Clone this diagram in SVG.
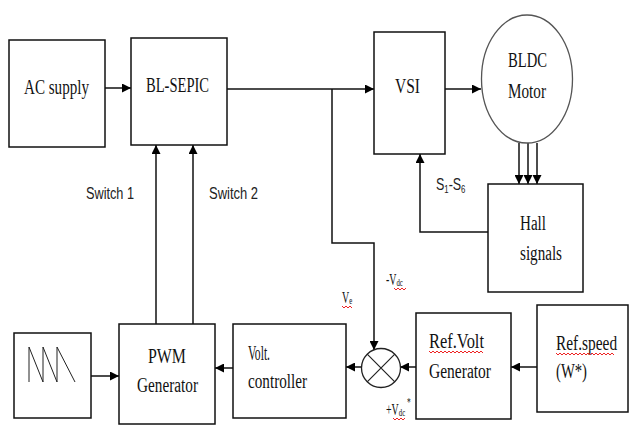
<svg xmlns="http://www.w3.org/2000/svg" width="630" height="428" viewBox="0 0 630 428">
<defs>
<marker id="ah" viewBox="0 0 10 10" refX="10" refY="5" markerWidth="9" markerHeight="9" markerUnits="userSpaceOnUse" orient="auto">
<path d="M0,0 L10,5 L0,10 Z" fill="#000"/>
</marker>
</defs>
<style>
.box{fill:#fff;stroke:#111;stroke-width:1.5}
.ln{fill:none;stroke:#111;stroke-width:1.5}
.t{font-family:"Liberation Serif",serif;font-size:20px;fill:#111}
.s{font-family:"Liberation Sans",sans-serif;font-size:16px;fill:#222}
.m{font-family:"Liberation Serif",serif;font-size:16px;fill:#111}
.w{fill:none;stroke:#e22;stroke-width:1}
</style>
<rect width="630" height="428" fill="#fff"/>
<g id="connectors">
<path class="ln" d="M105,88 H131" marker-end="url(#ah)"/>
<path class="ln" d="M227,89 H374" marker-end="url(#ah)"/>
<path class="ln" d="M332,89 V243 H374 V350" marker-end="url(#ah)"/>
<path class="ln" d="M445,89 H481" stroke="#333" marker-end="url(#ah)"/>
<path class="ln" d="M519,143 V184" marker-end="url(#ah)"/>
<path class="ln" d="M528,143 V184" marker-end="url(#ah)"/>
<path class="ln" d="M537,143 V184" marker-end="url(#ah)"/>
<path class="ln" d="M488,232 H420 V154" marker-end="url(#ah)"/>
<path class="ln" d="M156,324 V145" stroke="#444" marker-end="url(#ah)"/>
<path class="ln" d="M193,324 V145" stroke="#444" marker-end="url(#ah)"/>
<path class="ln" d="M537,367 H511" marker-end="url(#ah)"/>
<path class="ln" d="M416,367 H400" marker-end="url(#ah)"/>
<path class="ln" d="M361,367 H346" marker-end="url(#ah)"/>
<path class="ln" d="M233,368 H215" marker-end="url(#ah)"/>
<path class="ln" d="M91,376 H119" marker-end="url(#ah)"/>
</g>
<g id="ac-supply">
<rect class="box" x="9" y="40" width="96" height="107"/>
<text class="t" x="24" y="94" textLength="65" lengthAdjust="spacingAndGlyphs">AC supply</text>
</g>
<g id="bl-sepic">
<rect class="box" x="131" y="38" width="96" height="107"/>
<text class="t" x="146" y="92" textLength="63" lengthAdjust="spacingAndGlyphs">BL-SEPIC</text>
</g>
<g id="vsi">
<rect class="box" x="374" y="32" width="71" height="122"/>
<text class="t" x="395" y="93" textLength="25" lengthAdjust="spacingAndGlyphs">VSI</text>
</g>
<g id="motor">
<ellipse cx="527" cy="79" rx="45.5" ry="64" fill="#fff" stroke="#555" stroke-width="1.3"/>
<text class="t" x="508" y="67" textLength="39" lengthAdjust="spacingAndGlyphs">BLDC</text>
<text class="t" x="508" y="98" textLength="38" lengthAdjust="spacingAndGlyphs">Motor</text>
</g>
<g id="hall">
<rect class="box" x="488" y="184" width="95" height="108"/>
<text class="t" x="520" y="230" textLength="26" lengthAdjust="spacingAndGlyphs">Hall</text>
<text class="t" x="520" y="260" textLength="42" lengthAdjust="spacingAndGlyphs">signals</text>
</g>
<g id="s-label">
<text class="s" transform="translate(436,190) scale(0.78,1)">S<tspan font-size="10" dy="3">1</tspan><tspan dy="-3">-S</tspan><tspan font-size="10" dy="3">6</tspan></text>
</g>
<g id="switch-labels">
<text class="s" x="86" y="199" textLength="48" lengthAdjust="spacingAndGlyphs">Switch 1</text>
<text class="s" x="209" y="199" textLength="49" lengthAdjust="spacingAndGlyphs">Switch 2</text>
</g>
<g id="sawtooth">
<rect class="box" x="14" y="333" width="77" height="85"/>
<path d="M29,382 V347 L43,382 V347 L57,382 V347 L75,382" fill="none" stroke="#222" stroke-width="1"/>
</g>
<g id="pwm">
<rect class="box" x="119" y="324" width="96" height="100"/>
<text class="t" x="148" y="363" textLength="38" lengthAdjust="spacingAndGlyphs">PWM</text>
<text class="t" x="137" y="392" textLength="61" lengthAdjust="spacingAndGlyphs">Generator</text>
</g>
<g id="volt-controller">
<rect class="box" x="233" y="324" width="113" height="94"/>
<text class="t" x="248" y="360" textLength="22" lengthAdjust="spacingAndGlyphs">Volt.</text>
<text class="t" x="248" y="388" textLength="59" lengthAdjust="spacingAndGlyphs">controller</text>
</g>
<g id="sum">
<circle cx="381" cy="368" r="19.5" fill="#fff" stroke="#222" stroke-width="1.3"/>
<path d="M367.2,354.2 L394.8,381.8 M394.8,354.2 L367.2,381.8" stroke="#222" stroke-width="1.2"/>
</g>
<g id="ref-volt">
<rect class="box" x="416" y="313" width="95" height="106"/>
<text class="t" x="429" y="348" textLength="55" lengthAdjust="spacingAndGlyphs">Ref.Volt</text>
<path class="w" d="M429,351 l2,2 l2,-2 l2,2 l2,-2 l2,2 l2,-2 l2,2 l2,-2 l2,2 l2,-2 l2,2 l2,-2 l2,2 l2,-2 l2,2 l2,-2 l2,2 l2,-2 l2,2 l2,-2 l2,2 l2,-2 l2,2 l2,-2 l2,2 l2,-2 l2,2"/>
<text class="t" x="429" y="378" textLength="62" lengthAdjust="spacingAndGlyphs">Generator</text>
</g>
<g id="ref-speed">
<rect class="box" x="537" y="305" width="91" height="107"/>
<text class="t" transform="translate(556,350) scale(0.77,1)">Ref.speed</text>
<path class="w" d="M556,353 l2,2 l2,-2 l2,2 l2,-2 l2,2 l2,-2 l2,2 l2,-2 l2,2 l2,-2 l2,2 l2,-2 l2,2 l2,-2 l2,2 l2,-2 l2,2 l2,-2 l2,2 l2,-2 l2,2 l2,-2 l2,2 l2,-2 l2,2 l2,-2 l2,2 l2,-2 l2,2"/>
<text class="t" x="556" y="378" textLength="31" lengthAdjust="spacingAndGlyphs">(W*)</text>
</g>
<g id="signal-labels">
<text class="m" transform="translate(386,285) scale(0.62,1)">-V<tspan font-size="11" dy="1">dc</tspan></text>
<path class="w" d="M394,288 l2,2 l2,-2 l2,2 l2,-2 l2,2 l2,-2"/>
<text class="m" transform="translate(342,303) scale(0.62,1)">V<tspan font-size="11" dy="1">e</tspan></text>
<path class="w" d="M342,306 l2,2 l2,-2 l2,2 l2,-2 l2,2"/>
<text class="m" transform="translate(386,415) scale(0.62,1)">+V<tspan font-size="11" dy="1">dc</tspan><tspan font-size="12" dy="-10"> *</tspan></text>
<path class="w" d="M393,418 l2,2 l2,-2 l2,2 l2,-2 l2,2 l2,-2"/>
</g>
</svg>
